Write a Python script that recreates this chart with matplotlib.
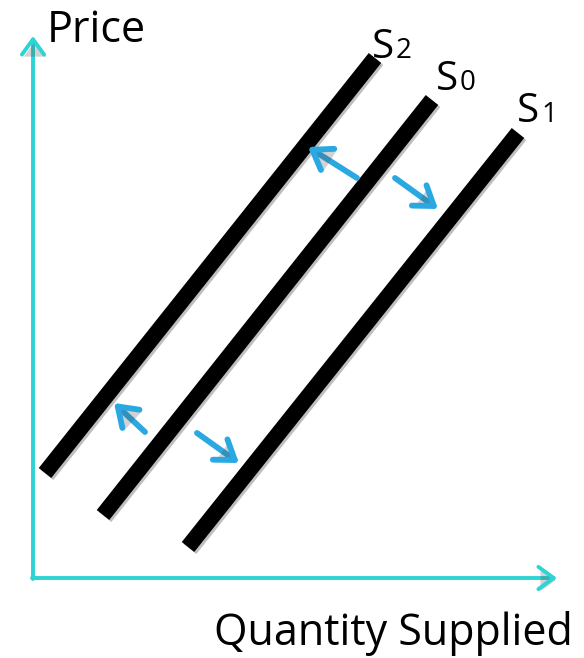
import matplotlib.pyplot as plt
import matplotlib.patheffects as pe

plt.rcParams['font.family'] = ['Open Sans', 'DejaVu Sans']

# supply curves, endpoints in picture coords (x right, y down)
curve_letters = ["S", "S", "S"]
curve_digits = ["2", "0", "1"]
curve_x0 = [45, 103, 188]
curve_y0 = [473, 515, 547]
curve_x1 = [375, 432, 518]
curve_y1 = [58, 100, 133]
label_x = [372, 436, 517]
label_y = [58, 90, 122]

# shift arrows: (tail x, tail y, head x, head y)
arrow_tail_x = [357, 395, 145, 197]
arrow_tail_y = [178, 178, 432, 433]
arrow_head_x = [308, 438, 114, 239]
arrow_head_y = [147, 209, 403, 463]

# axes
origin = (33, 578)
x_end = 557
y_end = 36

axis_color = "#2ED3D3"
arrow_color = "#2AA8E2"

fig = plt.figure(figsize=(5.84, 6.58), dpi=100)
ax = fig.add_axes([0, 0, 1, 1])
ax.set_xlim(0, 584)
ax.set_ylim(658, 0)
ax.axis("off")

shadow = [pe.SimplePatchShadow(offset=(1.5, -1.5), alpha=0.25), pe.Normal()]

for i in range(len(curve_letters)):
    ax.plot([curve_x0[i], curve_x1[i]], [curve_y0[i], curve_y1[i]],
            color="black", lw=11.5, solid_capstyle="butt",
            path_effects=[pe.SimpleLineShadow(offset=(1.5, -1.5), alpha=0.25), pe.Normal()])
    ax.text(label_x[i], label_y[i], curve_letters[i], fontsize=29,
            ha="left", va="baseline")
    ax.text(label_x[i] + 24, label_y[i], curve_digits[i], fontsize=20,
            ha="left", va="baseline")

for i in range(len(arrow_tail_x)):
    ax.annotate("", xy=(arrow_head_x[i], arrow_head_y[i]),
                xytext=(arrow_tail_x[i], arrow_tail_y[i]),
                arrowprops=dict(arrowstyle="->,head_length=0.65,head_width=0.45",
                                color=arrow_color, lw=4.2, mutation_scale=20,
                                shrinkA=0, shrinkB=0, path_effects=shadow))

# price and quantity axes
ax.annotate("", xy=(origin[0], y_end), xytext=(origin[0], origin[1] + 1),
            arrowprops=dict(arrowstyle="->,head_length=0.55,head_width=0.4",
                            color=axis_color, lw=2.8, mutation_scale=20,
                            shrinkA=0, shrinkB=0, path_effects=shadow))
ax.annotate("", xy=(x_end, origin[1]), xytext=(origin[0] - 1, origin[1]),
            arrowprops=dict(arrowstyle="->,head_length=0.55,head_width=0.4",
                            color=axis_color, lw=2.8, mutation_scale=20,
                            shrinkA=0, shrinkB=0, path_effects=shadow))

ax.text(47, 42, "Price", fontsize=31, ha="left", va="baseline")
ax.text(573, 645, "Quantity Supplied", fontsize=31, ha="right", va="baseline")

fig.savefig("out.png", dpi=100)
